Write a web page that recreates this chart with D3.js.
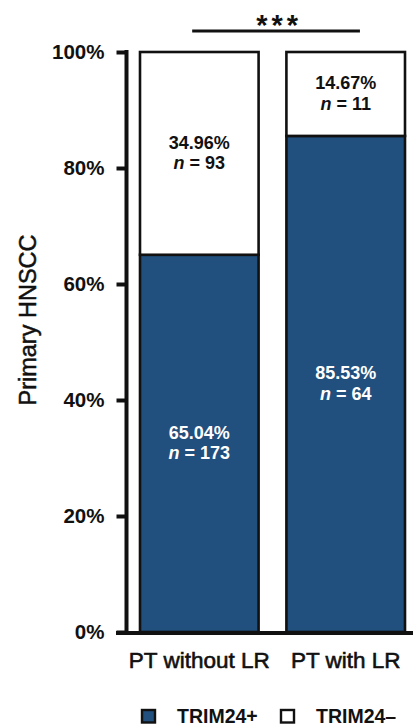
<!DOCTYPE html>
<html>
<head>
<meta charset="utf-8">
<script src="https://cdn.jsdelivr.net/npm/d3@7"></script>
<style>
  html, body { margin: 0; padding: 0; background: #fff; }
  svg { display: block; font-family: "Liberation Sans", Arial, sans-serif; }
</style>
</head>
<body>
<svg id="chart" width="413" height="727"></svg>
<script>
// Groups on the x axis
const categories = ["PT without LR", "PT with LR"];
// Share of tumours (%) per group
const positivePct = [65.04, 85.53];
const negativePct = [34.96, 14.67];
// Case counts per group
const positiveN = [173, 64];
const negativeN = [93, 11];
// Axis ticks
const yTicks = [0, 20, 40, 60, 80, 100];
const seriesNames = ["TRIM24+", "TRIM24\u2013"];

const blue = "#214f7e";
const ink = "#111";
const svg = d3.select("#chart");

const rows = categories.map((c, i) => ({
  cat: c, pos: positivePct[i], neg: negativePct[i],
  posN: positiveN[i], negN: negativeN[i]
}));

const y = d3.scaleLinear().domain([0, 100]).range([632, 52]).clamp(true);
const x = d3.scaleBand().domain(categories).range([140, 405])
  .paddingInner(0.19).paddingOuter(0);

const stack = d3.stack().keys(["pos", "neg"]);
const layers = stack(rows);
const fills = { pos: blue, neg: "#ffffff" };
const textFill = { pos: "#ffffff", neg: ink };
const counts = { pos: "posN", neg: "negN" };

// Stacked bar segments
const gLayers = svg.append("g").selectAll("g").data(layers).join("g");
gLayers.selectAll("rect")
  .data(d => d.map(s => ({ key: d.key, s })))
  .join("rect")
  .attr("x", d => x(d.s.data.cat))
  .attr("width", x.bandwidth())
  .attr("y", d => y(d.s[1]))
  .attr("height", d => y(d.s[0]) - y(d.s[1]))
  .attr("fill", d => fills[d.key])
  .attr("stroke", ink)
  .attr("stroke-width", 2.6);

// Value labels inside each segment
const fmt = d3.format(".2f");
const labels = gLayers.selectAll("g.lab")
  .data(d => d.map(s => ({ key: d.key, s })))
  .join("g").attr("class", "lab")
  .attr("transform", d => {
    const cx = x(d.s.data.cat) + x.bandwidth() / 2;
    const cy = (y(d.s[0]) + y(d.s[1])) / 2;
    return `translate(${cx},${cy})`;
  })
  .attr("fill", d => textFill[d.key])
  .attr("font-weight", "bold")
  .attr("font-size", 18)
  .attr("text-anchor", "middle");
labels.append("text").attr("y", -4.5)
  .text(d => fmt(d.s[1] - d.s[0]) + "%");
const nLine = labels.append("text").attr("y", 16);
nLine.append("tspan").attr("font-style", "italic").text("n");
nLine.append("tspan").text(d => " = " + d.s.data[counts[d.key]]);

// Y axis
const yAxis = d3.axisLeft(y).tickValues(yTicks)
  .tickFormat(d => d + "%").tickSize(10).tickSizeOuter(0).tickPadding(12);
const gy = svg.append("g").attr("transform", "translate(126.5,0)").call(yAxis);
gy.select(".domain").attr("stroke", ink).attr("stroke-width", 4)
  .attr("d", `M0,${y(100) - 2}V${y(0) + 2}`);
gy.selectAll(".tick line").attr("stroke", ink).attr("stroke-width", 4);
gy.selectAll(".tick text").attr("fill", ink).attr("font-size", 20.5)
  .attr("font-weight", "bold").attr("font-family", "Liberation Sans, Arial, sans-serif");

// X axis baseline and category labels
svg.append("line")
  .attr("x1", 116).attr("x2", 413)
  .attr("y1", y(0) + 1).attr("y2", y(0) + 1)
  .attr("stroke", ink).attr("stroke-width", 4);
const xAxis = d3.axisBottom(x).tickSize(0).tickSizeOuter(0).tickPadding(0);
const gx = svg.append("g").attr("transform", `translate(0,${y(0)})`).call(xAxis);
gx.select(".domain").remove();
gx.selectAll(".tick text").attr("fill", ink).attr("font-size", 22.5)
  .attr("font-family", "Liberation Sans, Arial, sans-serif")
  .attr("stroke", ink).attr("stroke-width", 0.6)
  .attr("dy", null).attr("y", 36);

// Y axis title
svg.append("text")
  .attr("transform", "translate(36,320) rotate(-90)")
  .attr("text-anchor", "middle")
  .attr("font-size", 23.5)
  .attr("fill", ink).attr("stroke", ink).attr("stroke-width", 0.5)
  .text("Primary HNSCC");

// Significance bracket
const x1 = x(categories[0]) + x.bandwidth() * 0.44;
const x2 = x(categories[1]) + x.bandwidth() * 0.62;
svg.append("line").attr("x1", x1).attr("x2", x2).attr("y1", 31).attr("y2", 31)
  .attr("stroke", ink).attr("stroke-width", 3);
svg.append("text").attr("x", (x1 + x2) / 2 + 3).attr("y", 35)
  .attr("text-anchor", "middle").attr("font-size", 29).attr("font-weight", "bold")
  .attr("letter-spacing", 4).attr("fill", ink).text("***");

// Legend
const legend = svg.append("g").selectAll("g").data(seriesNames).join("g")
  .attr("transform", (d, i) => `translate(${142 + i * 139},710)`);
legend.append("rect").attr("width", 13).attr("height", 12.5)
  .attr("fill", (d, i) => i === 0 ? blue : "#fff")
  .attr("stroke", ink).attr("stroke-width", 2.4);
legend.append("text").attr("x", 35).attr("y", 12.5)
  .attr("font-size", 19.5).attr("font-weight", "bold").attr("fill", ink)
  .text(d => d);
</script>
</body>
</html>
